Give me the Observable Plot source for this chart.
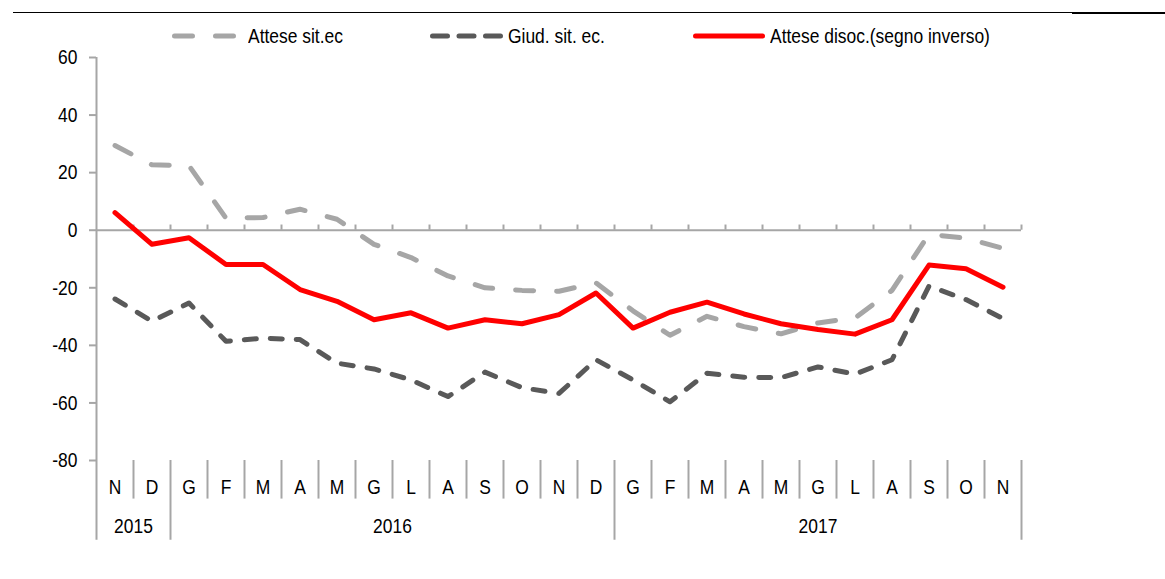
<!DOCTYPE html>
<html>
<head>
<meta charset="utf-8">
<script src="https://cdn.jsdelivr.net/npm/d3@7"></script>
<script src="https://cdn.jsdelivr.net/npm/@observablehq/plot@0.6"></script>
<style>
  html, body { margin: 0; padding: 0; background: #fff; }
  #wrap { position: relative; width: 1165px; height: 579px; overflow: hidden;
          font-family: "Liberation Sans Narrow", "Arial Narrow", "Liberation Sans", Arial, sans-serif; }
  .lg { position: absolute; top: 22px; font-size: 21px; line-height: 28px; color: #000; white-space: nowrap;
        transform: scaleX(0.83); transform-origin: 0 50%; }
  .sw { position: absolute; top: 31px; }
  #chart { position: absolute; left: 0; top: 0; }
</style>
</head>
<body>
<div id="wrap">
  <div style="position:absolute;left:13px;top:12px;width:1059px;height:1px;background:#000"></div>
  <div style="position:absolute;left:1072px;top:12px;width:93px;height:2px;background:#000"></div>
  <div id="chart"></div>
</div>
<script>
// ---- data ----
const months = ["N","D","G","F","M","A","M","G","L","A","S","O","N","D","G","F","M","A","M","G","L","A","S","O","N"];
const years = ["2015","2016","2017"];
const yearStartIndex = [0, 2, 14];
const seriesNames = ["Attese sit.ec", "Giud. sit. ec.", "Attese disoc.(segno inverso)"];
const attese = [29.4, 22.7, 22.4, 4.2, 4.4, 7.3, 3.8, -4.9, -9.5, -15.9, -20.0, -20.9, -21.2, -18.3, -28.0, -36.5, -29.9, -33.5, -36.0, -32.2, -30.5, -20.9, -1.4, -2.8, -6.3];
const giud = [-23.9, -31.6, -25.3, -38.6, -37.5, -38.0, -46.2, -48.2, -52.0, -57.8, -49.3, -54.7, -56.7, -45.0, -52.0, -59.6, -49.7, -51.1, -51.2, -47.5, -50.0, -45.0, -19.4, -24.1, -30.7];
const disoc = [6.1, -4.9, -2.6, -11.9, -11.9, -20.6, -24.7, -31.1, -28.7, -34.0, -31.1, -32.5, -29.3, -21.8, -34.0, -28.5, -25.0, -29.1, -32.5, -34.5, -36.1, -31.1, -12.1, -13.4, -19.8];
const yTicks = [-80, -60, -40, -20, 0, 20, 40, 60];

// ---- styles ----
const FONT = '"Liberation Sans Narrow", "Arial Narrow", "Liberation Sans", Arial, sans-serif';
const SQUEEZE = 0.83;
const AX = "#A6A6A6";
const colors = ["#A6A6A6", "#595959", "#FF0000"];
const dashes = ["18,23", "12,14", null];

const n = months.length;
const idx = d3.range(n);
const boundaries = d3.range(n + 1).map(k => k - 0.5);
const yearEnds = yearStartIndex.slice(1).concat([n]);
const yearBounds = yearStartIndex.map(s => s - 0.5).concat([n - 0.5]);
const monthBounds = boundaries.filter(b => !yearBounds.includes(b));
const yearCenters = yearStartIndex.map((s, i) => (s + yearEnds[i] - 1) / 2);

const allSeries = [attese, giud, disoc];

const lineMarks = allSeries.map((vals, si) =>
  Plot.line(idx, {
    x: i => i, y: i => vals[i],
    stroke: colors[si], strokeWidth: 5,
    strokeDasharray: dashes[si] || undefined,
    strokeLinecap: "round", strokeLinejoin: "round"
  })
);

const chart = Plot.plot({
  width: 1165, height: 579,
  marginLeft: 96, marginRight: 144, marginTop: 57, marginBottom: 119,
  x: {domain: [-0.5, n - 0.5], axis: null},
  y: {domain: [-80, 60], axis: null},
  style: {fontFamily: FONT, fontSize: "21px", color: "#000", background: "transparent", overflow: "visible"},
  marks: [
    Plot.axisY({ticks: yTicks, tickSize: 7, tickPadding: 12, stroke: AX, strokeWidth: 2, fill: "#000", fontSize: 21, tickFormat: d => String(d)}),
    Plot.ruleX([-0.5], {y1: 60, y2: -107.7, stroke: AX, strokeWidth: 2}),
    Plot.ruleY([0], {x1: -0.5, x2: n - 0.5, stroke: AX, strokeWidth: 2}),
    Plot.ruleX(boundaries.slice(1), {x: d => d, y1: 0, y2: 1.8, stroke: AX, strokeWidth: 2}),
    Plot.ruleX(monthBounds, {x: d => d, y1: -80, y2: -93.4, stroke: AX, strokeWidth: 2}),
    Plot.ruleX(yearBounds.slice(1), {x: d => d, y1: -80, y2: -107.7, stroke: AX, strokeWidth: 2}),
    Plot.text(months, {x: (d, i) => i, y: -89.4, text: d => d, fill: "#000", fontSize: 21}),
    Plot.text(years, {x: (d, i) => yearCenters[i], y: -102.7, text: d => d, fill: "#000", fontSize: 21}),
    ...lineMarks
  ]
});
// condense text horizontally (narrow face not installed)
chart.querySelectorAll("text").forEach(t => {
  const tr = t.getAttribute("transform") || "";
  const x = parseFloat(t.getAttribute("x")) || 0;
  t.setAttribute("transform", `${tr} translate(${x},0) scale(${SQUEEZE},1) translate(${-x},0)`);
});
document.getElementById("chart").appendChild(chart);

// ---- legend ----
const wrap = document.getElementById("wrap");
const legendItems = [
  {sx: 172, sw: 65, tx: 248, dash: "18,23"},
  {sx: 430, sw: 73, tx: 508, dash: "15,11.5"},
  {sx: 693, sw: 72, tx: 770, dash: null}
];
legendItems.forEach((it, i) => {
  const ns = "http://www.w3.org/2000/svg";
  const svg = document.createElementNS(ns, "svg");
  svg.setAttribute("width", it.sw + 6);
  svg.setAttribute("height", 10);
  svg.setAttribute("class", "sw");
  svg.style.left = (it.sx - 3) + "px";
  const ln = document.createElementNS(ns, "line");
  ln.setAttribute("x1", 3 + 2.5); ln.setAttribute("x2", 3 + it.sw - 2.5);
  ln.setAttribute("y1", 5); ln.setAttribute("y2", 5);
  ln.setAttribute("stroke", colors[i]);
  ln.setAttribute("stroke-width", 5);
  ln.setAttribute("stroke-linecap", "round");
  if (it.dash) ln.setAttribute("stroke-dasharray", it.dash);
  svg.appendChild(ln);
  wrap.appendChild(svg);
  const t = document.createElement("div");
  t.className = "lg";
  t.style.left = it.tx + "px";
  t.textContent = seriesNames[i];
  wrap.appendChild(t);
});
</script>
</body>
</html>
